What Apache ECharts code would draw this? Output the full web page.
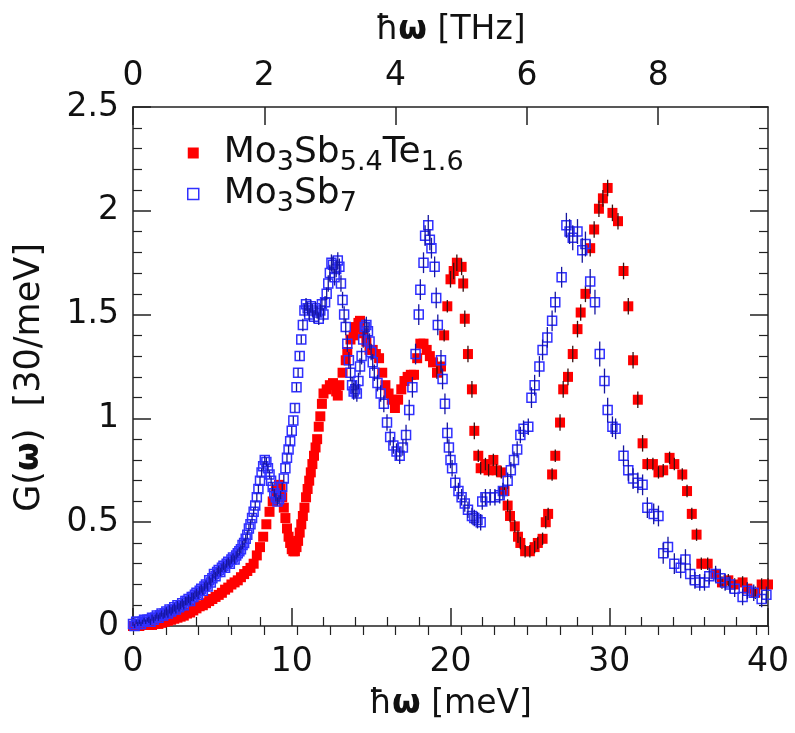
<!DOCTYPE html>
<html><head><meta charset="utf-8">
<script src="https://cdn.jsdelivr.net/npm/echarts@6/dist/echarts.min.js"></script>
<style>html,body{margin:0;padding:0;background:#fff}#c{width:795px;height:733px}</style>
</head><body><div id="c"></div>
<script>
// Series names
const redName = 'Mo3Sb5.4Te1.6';
const blueName = 'Mo3Sb7';

// Mo3Sb5.4Te1.6: [E (meV), G, err]
const redData = [
[0.0,0.0],[0.2,0.0],[0.4,0.0],[0.6,0.005],[0.8,0.005],[1.0,0.005],[1.2,0.005],[1.4,0.01],[1.6,0.01],[1.8,0.015],
[2.0,0.02],[2.2,0.025],[2.4,0.03],[2.6,0.035],[2.8,0.04],[3.0,0.045],[3.2,0.05],[3.4,0.06],[3.6,0.065],[3.8,0.075],
[4.0,0.085],[4.2,0.095],[4.4,0.10],[4.6,0.11],[4.8,0.12],[5.0,0.13],[5.2,0.14],[5.4,0.15],[5.6,0.16],[5.8,0.175],
[6.0,0.185],[6.2,0.20],[6.4,0.21],[6.6,0.22],[6.8,0.235],[7.0,0.25],[7.2,0.265],[7.4,0.28],[7.6,0.30],[7.8,0.34],
[8.0,0.38],[8.2,0.43],[8.4,0.49],[8.6,0.55],[8.8,0.60],[9.0,0.65],[9.2,0.68],[9.3,0.66],[9.4,0.62],[9.5,0.57],
[9.6,0.52],[9.7,0.47],[9.8,0.43],[9.9,0.40],[10.0,0.37],[10.1,0.36],[10.2,0.36],[10.3,0.38],[10.4,0.41],[10.5,0.45],
[10.6,0.49],[10.7,0.53],[10.8,0.57],[10.9,0.62],[11.0,0.66],[11.1,0.70],[11.2,0.74],[11.3,0.78],[11.4,0.82],[11.5,0.86],
[11.6,0.90],[11.7,0.96],[11.8,1.01],[11.9,1.07],[12.0,1.12],[12.2,1.14],[12.4,1.16],[12.6,1.17],[12.8,1.13],[12.9,1.11],
[13.0,1.16],[13.2,1.22],[13.4,1.28],[13.5,1.32],[13.7,1.38],[13.9,1.40],[14.0,1.44],[14.2,1.46],[14.3,1.47],[14.5,1.41],
[14.7,1.37],[14.9,1.33],[15.1,1.33],[15.3,1.31],[15.5,1.29],[15.7,1.22],[15.9,1.16],[16.1,1.12],[16.3,1.09],[16.5,1.05],
[16.7,1.09],[16.9,1.14],[17.1,1.18],[17.3,1.20],[17.5,1.21],[17.7,1.21],[17.9,1.29],[18.1,1.36],[18.3,1.36],[18.5,1.33],
[18.7,1.30],[18.9,1.27],[19.15,1.22,0.03],[19.4,1.25,0.03],[19.6,1.40,0.03],[19.8,1.54,0.03],[20.0,1.67,0.04],[20.2,1.71,0.04],[20.4,1.75,0.04],[20.7,1.73,0.04],
[20.8,1.65,0.04],[20.9,1.48,0.04],[21.1,1.31,0.04],[21.35,1.14,0.04],[21.5,0.94,0.04],[21.75,0.82,0.03],[21.9,0.76,0.03],[22.2,0.78,0.03],[22.4,0.75,0.03],[22.7,0.80,0.03],
[22.9,0.75,0.03],[23.2,0.74,0.03],[23.4,0.65,0.03],[23.6,0.58,0.03],[23.75,0.53,0.03],[24.05,0.48,0.03],[24.25,0.43,0.03],[24.4,0.40,0.03],[24.7,0.36,0.03],[25.0,0.36,0.03],
[25.3,0.38,0.03],[25.5,0.40,0.03],[25.8,0.42,0.03],[26.0,0.50,0.03],[26.15,0.54,0.03],[26.4,0.73,0.03],[26.6,0.82,0.03],[26.9,0.98,0.04],[27.1,1.14,0.04],[27.4,1.20,0.04],
[27.7,1.31,0.04],[28.0,1.43,0.04],[28.2,1.51,0.04],[28.5,1.60,0.04],[28.8,1.82,0.04],[29.05,1.91,0.04],[29.35,2.01,0.04],[29.6,2.06,0.04],[29.9,2.11,0.04],[30.2,1.99,0.04],
[30.55,1.95,0.04],[30.9,1.71,0.04],[31.2,1.54,0.04],[31.5,1.28,0.04],[31.8,1.09,0.04],[32.1,0.88,0.04],[32.4,0.78,0.03],[32.75,0.78,0.03],[33.1,0.74,0.03],[33.4,0.75,0.03],
[33.8,0.81,0.03],[34.1,0.78,0.03],[34.6,0.73,0.03],[34.9,0.65,0.03],[35.2,0.54,0.03],[35.5,0.44,0.03],[35.8,0.30,0.03],[36.2,0.30,0.03],[36.7,0.25,0.03],[37.1,0.21,0.03],
[37.5,0.22,0.03],[37.9,0.20,0.03],[38.4,0.21,0.03],[38.7,0.18,0.03],[39.2,0.16,0.03],[39.6,0.20,0.03],[40.0,0.20,0.03]
];

// Mo3Sb7: [E (meV), G, err]
const blueData = [
[0.0,0.01,0.01],[0.1,0.00,0.01],[0.2,0.02,0.01],[0.3,0.01,0.01],[0.4,0.02,0.01],[0.5,0.01,0.01],[0.6,0.02,0.01],[0.7,0.03,0.01],[0.8,0.02,0.01],[0.9,0.03,0.01],
[1.0,0.03,0.015],[1.1,0.02,0.015],[1.2,0.04,0.015],[1.3,0.03,0.015],[1.4,0.04,0.015],[1.5,0.05,0.015],[1.6,0.04,0.015],[1.7,0.05,0.015],[1.8,0.06,0.015],[1.9,0.05,0.015],
[2.0,0.06,0.02],[2.1,0.07,0.02],[2.2,0.06,0.02],[2.3,0.08,0.02],[2.4,0.07,0.02],[2.5,0.08,0.02],[2.6,0.09,0.02],[2.7,0.08,0.02],[2.8,0.10,0.02],[2.9,0.09,0.02],
[3.0,0.10,0.02],[3.1,0.11,0.02],[3.2,0.10,0.02],[3.3,0.12,0.02],[3.4,0.12,0.02],[3.5,0.13,0.02],[3.6,0.12,0.02],[3.7,0.14,0.02],[3.8,0.14,0.02],[3.9,0.15,0.02],
[4.0,0.16,0.02],[4.1,0.15,0.02],[4.2,0.17,0.02],[4.3,0.18,0.02],[4.4,0.17,0.02],[4.5,0.19,0.02],[4.6,0.20,0.02],[4.7,0.19,0.02],[4.8,0.22,0.02],[4.9,0.21,0.02],
[5.0,0.23,0.02],[5.1,0.25,0.02],[5.2,0.24,0.02],[5.3,0.26,0.02],[5.4,0.27,0.02],[5.5,0.26,0.02],[5.6,0.28,0.02],[5.7,0.29,0.02],[5.8,0.28,0.02],[5.9,0.30,0.02],
[6.0,0.31,0.02],[6.1,0.30,0.02],[6.2,0.32,0.02],[6.3,0.33,0.02],[6.4,0.32,0.02],[6.5,0.34,0.02],[6.6,0.35,0.02],[6.7,0.36,0.02],[6.8,0.37,0.02],[6.9,0.39,0.02],
[7.0,0.40,0.02],[7.1,0.42,0.02],[7.2,0.44,0.02],[7.3,0.47,0.02],[7.4,0.49,0.02],[7.5,0.52,0.02],[7.6,0.55,0.02],[7.7,0.58,0.02],[7.8,0.62,0.02],[7.9,0.66,0.02],
[8.0,0.70,0.02],[8.1,0.74,0.02],[8.2,0.77,0.02],[8.3,0.80,0.02],[8.4,0.79,0.02],[8.5,0.76,0.02],[8.6,0.73,0.02],[8.7,0.70,0.02],[8.8,0.67,0.02],[8.9,0.64,0.02],
[9.0,0.62,0.02],[9.1,0.60,0.02],[9.2,0.61,0.02],[9.3,0.63,0.02],[9.4,0.67,0.02],[9.5,0.71,0.02],[9.6,0.76,0.02],[9.7,0.81,0.02],[9.8,0.85,0.02],[9.9,0.89,0.02],
[10.0,0.94,0.02],[10.1,0.99,0.02],[10.2,1.05,0.02],[10.3,1.15,0.02],[10.4,1.22,0.02],[10.5,1.30,0.02],[10.6,1.38,0.02],[10.7,1.45,0.03],[10.8,1.52,0.03],[10.9,1.55,0.03],
[11.0,1.53,0.03],[11.1,1.50,0.03],[11.2,1.54,0.03],[11.3,1.52,0.03],[11.4,1.49,0.03],[11.5,1.53,0.03],[11.6,1.51,0.03],[11.7,1.48,0.03],[11.8,1.52,0.03],[11.9,1.55,0.03],
[12.0,1.50,0.03],[12.1,1.56,0.03],[12.2,1.60,0.03],[12.3,1.65,0.04],[12.4,1.70,0.04],[12.5,1.75,0.04],[12.6,1.74,0.04],[12.7,1.68,0.04],[12.8,1.72,0.04],[12.9,1.76,0.04],
[13.0,1.73,0.04],[13.1,1.65,0.04],[13.2,1.57,0.04],[13.3,1.50,0.04],[13.4,1.44,0.04],[13.5,1.36,0.04],[13.6,1.28,0.04],[13.7,1.22,0.04],[13.8,1.16,0.04],[13.9,1.13,0.04],
[14.0,1.14,0.04],[14.1,1.12,0.04],[14.2,1.18,0.04],[14.3,1.25,0.04],[14.4,1.30,0.04],[14.5,1.38,0.04],[14.6,1.44,0.04],[14.7,1.45,0.04],[14.8,1.42,0.04],[14.9,1.37,0.04],
[15.0,1.32,0.04],[15.1,1.27,0.04],[15.2,1.22,0.04],[15.4,1.17,0.04],[15.6,1.12,0.04],[15.8,1.07,0.04],[16.0,0.98,0.04],[16.2,0.91,0.04],[16.4,0.87,0.04],[16.6,0.84,0.04],
[16.8,0.82,0.04],[17.0,0.86,0.04],[17.2,0.92,0.05],[17.4,1.04,0.05],[17.6,1.15,0.05],[17.8,1.31,0.05],[18.0,1.50,0.05],[18.1,1.62,0.05],[18.3,1.75,0.05],[18.4,1.88,0.05],
[18.6,1.93,0.05],[18.7,1.86,0.05],[18.8,1.82,0.05],[19.0,1.73,0.05],[19.1,1.58,0.05],[19.2,1.45,0.05],[19.4,1.28,0.05],[19.5,1.19,0.05],[19.65,1.07,0.05],[19.8,0.93,0.05],
[19.9,0.86,0.04],[20.0,0.80,0.04],[20.1,0.76,0.04],[20.3,0.69,0.04],[20.5,0.65,0.04],[20.7,0.62,0.04],[20.9,0.59,0.04],[21.1,0.56,0.04],[21.35,0.53,0.04],[21.5,0.52,0.04],
[21.7,0.51,0.04],[21.9,0.50,0.04],[22.0,0.60,0.04],[22.2,0.62,0.04],[22.5,0.62,0.04],[22.8,0.62,0.04],[23.1,0.63,0.04],[23.3,0.65,0.04],[23.6,0.70,0.04],[23.8,0.75,0.04],
[24.0,0.80,0.04],[24.2,0.85,0.04],[24.4,0.92,0.04],[24.6,0.95,0.04],[24.9,0.96,0.04],[25.1,1.10,0.05],[25.3,1.16,0.05],[25.6,1.25,0.05],[25.8,1.33,0.05],[26.1,1.39,0.05],
[26.4,1.47,0.05],[26.6,1.56,0.05],[27.0,1.68,0.05],[27.3,1.93,0.06],[27.5,1.90,0.06],[27.7,1.87,0.06],[28.0,1.90,0.06],[28.3,1.81,0.06],[28.5,1.84,0.06],[28.8,1.66,0.06],
[29.1,1.56,0.06],[29.4,1.31,0.06],[29.7,1.18,0.06],[29.9,1.04,0.06],[30.2,0.96,0.05],[30.4,0.95,0.05],[30.9,0.82,0.05],[31.2,0.75,0.05],[31.5,0.71,0.05],[31.8,0.69,0.05],
[32.1,0.68,0.05],[32.4,0.57,0.05],[32.8,0.54,0.05],[33.1,0.53,0.05],[33.4,0.35,0.05],[33.7,0.38,0.05],[34.1,0.30,0.05],[34.5,0.28,0.05],[34.8,0.32,0.05],[35.1,0.25,0.05],
[35.4,0.22,0.04],[35.7,0.21,0.04],[36.0,0.21,0.04],[36.3,0.24,0.04],[36.7,0.25,0.04],[37.0,0.23,0.04],[37.3,0.21,0.04],[37.6,0.20,0.04],[37.9,0.18,0.04],[38.4,0.14,0.04],
[38.7,0.17,0.04],[39.1,0.16,0.04],[39.6,0.13,0.04],[39.9,0.15,0.04]
];

// Axis ranges
const xMin = 0, xMax = 40, xInterval = 10;
const yMin = 0, yMax = 2.5, yInterval = 0.5;
const meVperTHz = 4.1357;          // 1 THz = 4.1357 meV (top axis)
const thzInterval = 2, thzMinor = 0.5;

const FONT = 'DejaVu Sans';
const axisColor = '#222';
const lineStyle = {color: axisColor, width: 1.5};
const dims = [{name: 'x', type: 'number'}, {name: 'y', type: 'number'}, {name: 'e', type: 'number'}];

function errRender(color) {
  return function (params, api) {
    const e = api.value(2);
    if (!(e > 0)) return null;
    const x = api.value(0), y = api.value(1);
    const p1 = api.coord([x, y - e]);
    const p2 = api.coord([x, y + e]);
    return {type: 'line', shape: {x1: p1[0], y1: p1[1], x2: p2[0], y2: p2[1]},
            style: {stroke: color, lineWidth: 1.3}};
  };
}

const chart = echarts.init(document.getElementById('c'), null, {renderer: 'canvas'});
const nameRich = {
  n: {fontFamily: FONT, fontSize: 33, color: '#111'},
  w: {fontFamily: FONT, fontSize: 33, fontWeight: 'bold', color: '#111'}
};
const yNameRich = {
  n: {fontFamily: FONT, fontSize: 35, color: '#111'},
  w: {fontFamily: FONT, fontSize: 33, fontWeight: 'bold', color: '#111'}
};
const legendRich = {
  g: {width: 20},
  n: {fontFamily: FONT, fontSize: 36, color: '#111', lineHeight: 46},
  s: {fontFamily: FONT, fontSize: 27, color: '#111', lineHeight: 26, verticalAlign: 'bottom'}
};
const legendLabels = {};
legendLabels[redName] = '{g|}{n|Mo}{s|3}{n|Sb}{s|5.4}{n|Te}{s|1.6}';
legendLabels[blueName] = '{g|}{n|Mo}{s|3}{n|Sb}{s|7}';

chart.setOption({
  animation: false,
  backgroundColor: '#fff',
  grid: {left: 133, right: 27, top: 107, bottom: 107, containLabel: false},
  legend: {
    orient: 'vertical', left: 187, top: 135, itemGap: 0, itemWidth: 11, itemHeight: 11,
    padding: 0,
    data: [
      {name: redName, icon: 'rect', itemStyle: {color: '#ff0000', borderWidth: 0}},
      {name: blueName, icon: 'rect', itemStyle: {color: '#ffffff', borderColor: '#3030ff', borderWidth: 1.5}}
    ],
    formatter: function (name) { return legendLabels[name]; },
    textStyle: {rich: legendRich}
  },
  xAxis: [
    {
      type: 'value', min: xMin, max: xMax, interval: xInterval, position: 'bottom',
      axisLine: {onZero: false, lineStyle: lineStyle},
      axisTick: {inside: true, length: 18, lineStyle: lineStyle},
      minorTick: {show: true, splitNumber: 5, length: 9, lineStyle: {color: axisColor, width: 1.2}},
      splitLine: {show: false},
      axisLabel: {fontFamily: FONT, fontSize: 33, color: '#111', margin: 20},
      name: '{n|ħ}{w|ω}{n| [meV]}', nameLocation: 'middle', nameGap: 62,
      nameTextStyle: {rich: nameRich}
    },
    {
      type: 'value', min: 0, max: xMax / meVperTHz, interval: thzInterval, position: 'top',
      axisLine: {onZero: false, lineStyle: lineStyle},
      axisTick: {inside: true, length: 18, lineStyle: lineStyle},
      splitLine: {show: false},
      axisLabel: {fontFamily: FONT, fontSize: 33, color: '#111', margin: 14, showMaxLabel: false},
      name: '{n|ħ}{w|ω}{n| [THz]}', nameLocation: 'middle', nameGap: 60,
      nameTextStyle: {rich: nameRich}
    },
    {
      type: 'value', min: 0, max: xMax / meVperTHz, interval: thzMinor, position: 'top',
      axisLine: {show: false},
      axisTick: {inside: true, length: 9, lineStyle: {color: axisColor, width: 1.2}},
      splitLine: {show: false},
      axisLabel: {show: false}
    }
  ],
  yAxis: [
    {
      type: 'value', min: yMin, max: yMax, interval: yInterval, position: 'left',
      axisLine: {onZero: false, lineStyle: lineStyle},
      axisTick: {inside: true, length: 18, lineStyle: lineStyle},
      minorTick: {show: true, splitNumber: 5, length: 9, lineStyle: {color: axisColor, width: 1.2}},
      splitLine: {show: false},
      axisLabel: {fontFamily: FONT, fontSize: 33, color: '#111', margin: 14},
      name: '{n|G(}{w|ω}{n|)  [30/meV]}', nameLocation: 'middle', nameGap: 86, nameRotate: 90,
      nameTextStyle: {rich: yNameRich, padding: [0, 22, 0, 0]}
    },
    {
      type: 'value', min: yMin, max: yMax, interval: yInterval, position: 'right',
      axisLine: {onZero: false, lineStyle: lineStyle},
      axisTick: {inside: true, length: 18, lineStyle: lineStyle},
      minorTick: {show: true, splitNumber: 5, length: 9, lineStyle: {color: axisColor, width: 1.2}},
      splitLine: {show: false},
      axisLabel: {show: false}
    }
  ],
  series: [
    {
      name: redName, type: 'scatter', xAxisIndex: 0, yAxisIndex: 0,
      data: redData, dimensions: dims, encode: {x: 0, y: 1}, symbol: 'rect', symbolSize: 10,
      itemStyle: {color: '#ff0000', opacity: 1}, z: 2
    },
    {
      name: redName + ' err', type: 'custom', xAxisIndex: 0, yAxisIndex: 0,
      data: redData, dimensions: dims, renderItem: errRender('#3a1010'), encode: {x: 0, y: 1}, z: 3, silent: true
    },
    {
      name: blueName, type: 'scatter', xAxisIndex: 0, yAxisIndex: 0,
      data: blueData, dimensions: dims, encode: {x: 0, y: 1}, symbol: 'rect', symbolSize: 9,
      itemStyle: {color: 'rgba(255,255,255,0)', borderColor: '#3030ff', borderWidth: 1.5, opacity: 1}, z: 4
    },
    {
      name: blueName + ' err', type: 'custom', xAxisIndex: 0, yAxisIndex: 0,
      data: blueData, dimensions: dims, renderItem: errRender('#1515a0'), encode: {x: 0, y: 1}, z: 5, silent: true
    }
  ]
});
</script>
</body></html>
